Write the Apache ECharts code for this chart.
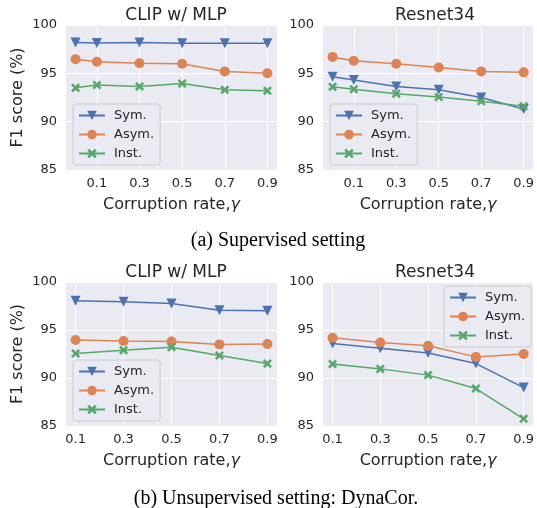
<!DOCTYPE html>
<html>
<head>
<meta charset="utf-8">
<script src="https://cdn.jsdelivr.net/npm/echarts@6/dist/echarts.min.js"></script>
<style>
  html, body { margin: 0; padding: 0; background: #fff; }
  #main { width: 537px; height: 508px; }
</style>
</head>
<body>
<div id="main"></div>
<script>
// x positions (corruption rate)
var xSup = [0, 0.1, 0.3, 0.5, 0.7, 0.9];
var xUns = [0.1, 0.3, 0.5, 0.7, 0.9];
var xTicks = [0.1, 0.3, 0.5, 0.7, 0.9];

// (a) supervised
var supClipSym  = [98.2, 98.15, 98.2, 98.1, 98.1, 98.1];
var supClipAsym = [96.45, 96.2, 96.05, 96.0, 95.2, 95.0];
var supClipInst = [93.5, 93.8, 93.65, 93.95, 93.3, 93.2];
var supResSym   = [94.65, 94.3, 93.65, 93.3, 92.5, 91.3];
var supResAsym  = [96.7, 96.3, 96.0, 95.6, 95.2, 95.1];
var supResInst  = [93.6, 93.35, 92.9, 92.55, 92.1, 91.6];

// (b) unsupervised
var unsClipSym  = [98.05, 97.95, 97.75, 97.05, 97.0];
var unsClipAsym = [93.95, 93.85, 93.8, 93.5, 93.55];
var unsClipInst = [92.55, 92.9, 93.2, 92.35, 91.5];
var unsResSym   = [93.6, 93.1, 92.6, 91.5, 89.0];
var unsResAsym  = [94.2, 93.7, 93.35, 92.2, 92.5];
var unsResInst  = [91.45, 90.95, 90.3, 88.9, 85.75];

var names = ['Sym.', 'Asym.', 'Inst.'];
var colors = ['#4C72B0', '#DD8452', '#55A868'];
var txt = '#262626';
var font = 'DejaVu Sans';
var xMark = 'path://M2,0 L5,3 L8,0 L10,2 L7,5 L10,8 L8,10 L5,7 L2,10 L0,8 L3,5 L0,2 Z';

var myChart = echarts.init(document.getElementById('main'));

var grids = [
  { left: 66, top: 25, width: 211, height: 145 },
  { left: 323, top: 25, width: 213, height: 145 },
  { left: 66, top: 282, width: 211, height: 144 },
  { left: 323, top: 282, width: 213, height: 144 }
];
grids.forEach(function (g) {
  g.show = true;
  g.backgroundColor = '#EAEAF2';
  g.borderWidth = 0;
});

function makeX(i, min, max) {
  return {
    type: 'value', gridIndex: i, min: min, max: max,
    name: 'Corruption rate,{g|γ}',
    nameLocation: 'middle', nameGap: 27,
    nameTextStyle: { fontFamily: font, fontSize: 16, color: txt,
      rich: { g: { fontFamily: font, fontSize: 16, fontStyle: 'italic', color: txt } } },
    axisLine: { show: false },
    axisTick: { show: false, customValues: xTicks },
    axisLabel: { customValues: xTicks, fontFamily: font, fontSize: 13, color: txt, margin: 7,
      formatter: function (v) { return v.toFixed(1); } },
    splitLine: { show: true, lineStyle: { color: '#fff', width: 1 } }
  };
}
function makeY(i, withName) {
  return {
    type: 'value', gridIndex: i, min: 85, max: 100, interval: 5,
    name: withName ? 'F1 score (%)' : '',
    nameLocation: 'middle', nameGap: 40,
    nameTextStyle: { fontFamily: font, fontSize: 16, color: txt },
    axisLine: { show: false },
    axisTick: { show: false },
    axisLabel: { fontFamily: font, fontSize: 13, color: txt, margin: 9 },
    splitLine: { show: true, lineStyle: { color: '#fff', width: 1 } }
  };
}

function pairs(xs, ys) {
  return ys.map(function (y, k) { return [xs[k], y]; });
}

var symbols = ['triangle', 'circle', xMark];
var sizes = [10, 10, 9];
var rot = [180, 0, 0];
var series = [];
var panels = [
  [xSup, [supClipSym, supClipAsym, supClipInst]],
  [xSup, [supResSym, supResAsym, supResInst]],
  [xUns, [unsClipSym, unsClipAsym, unsClipInst]],
  [xUns, [unsResSym, unsResAsym, unsResInst]]
];
panels.forEach(function (p, i) {
  p[1].forEach(function (ys, k) {
    series.push({
      type: 'line', name: names[k], xAxisIndex: i, yAxisIndex: i,
      data: pairs(p[0], ys),
      symbol: symbols[k], symbolSize: sizes[k], symbolRotate: rot[k],
      showAllSymbol: true,
      itemStyle: { color: colors[k] },
      lineStyle: { color: colors[k], width: 1.5 },
      emphasis: { disabled: true },
      animation: false
    });
  });
});

function makeLegend(left, top) {
  return {
    data: names, orient: 'vertical', left: left, top: top,
    itemWidth: 26, itemHeight: 12, itemGap: 6,
    padding: [5, 6, 5, 5],
    backgroundColor: 'rgba(234,234,242,0.8)',
    borderColor: '#CCCCCC', borderWidth: 1, borderRadius: 3,
    textStyle: { fontFamily: font, fontSize: 13, color: txt, padding: [0, 0, 0, 4] },
    selectedMode: false
  };
}

var option = {
  animation: false,
  title: [
    { text: 'CLIP w/ MLP', left: 171, top: 2, textAlign: 'center',
      textStyle: { fontFamily: font, fontSize: 17, fontWeight: 'normal', color: txt } },
    { text: 'Resnet34', left: 430, top: 2, textAlign: 'center',
      textStyle: { fontFamily: font, fontSize: 17, fontWeight: 'normal', color: txt } },
    { text: 'CLIP w/ MLP', left: 171, top: 259, textAlign: 'center',
      textStyle: { fontFamily: font, fontSize: 17, fontWeight: 'normal', color: txt } },
    { text: 'Resnet34', left: 430, top: 259, textAlign: 'center',
      textStyle: { fontFamily: font, fontSize: 17, fontWeight: 'normal', color: txt } },
    { text: '(a) Supervised setting', left: 273, top: 226, textAlign: 'center',
      textStyle: { fontFamily: 'Liberation Serif', fontSize: 20, fontWeight: 'normal', color: '#000' } },
    { text: '(b) Unsupervised setting: DynaCor.', left: 271, top: 484, textAlign: 'center',
      textStyle: { fontFamily: 'Liberation Serif', fontSize: 20, fontWeight: 'normal', color: '#000' } }
  ],
  grid: grids,
  xAxis: [makeX(0, -0.045, 0.945), makeX(1, -0.045, 0.945), makeX(2, 0.06, 0.94), makeX(3, 0.06, 0.94)],
  yAxis: [makeY(0, true), makeY(1, false), makeY(2, true), makeY(3, false)],
  legend: [makeLegend(73, 104), makeLegend(330, 104), makeLegend(73, 360), makeLegend(444, 286)],
  series: series
};

myChart.setOption(option, true);
</script>
</body>
</html>
